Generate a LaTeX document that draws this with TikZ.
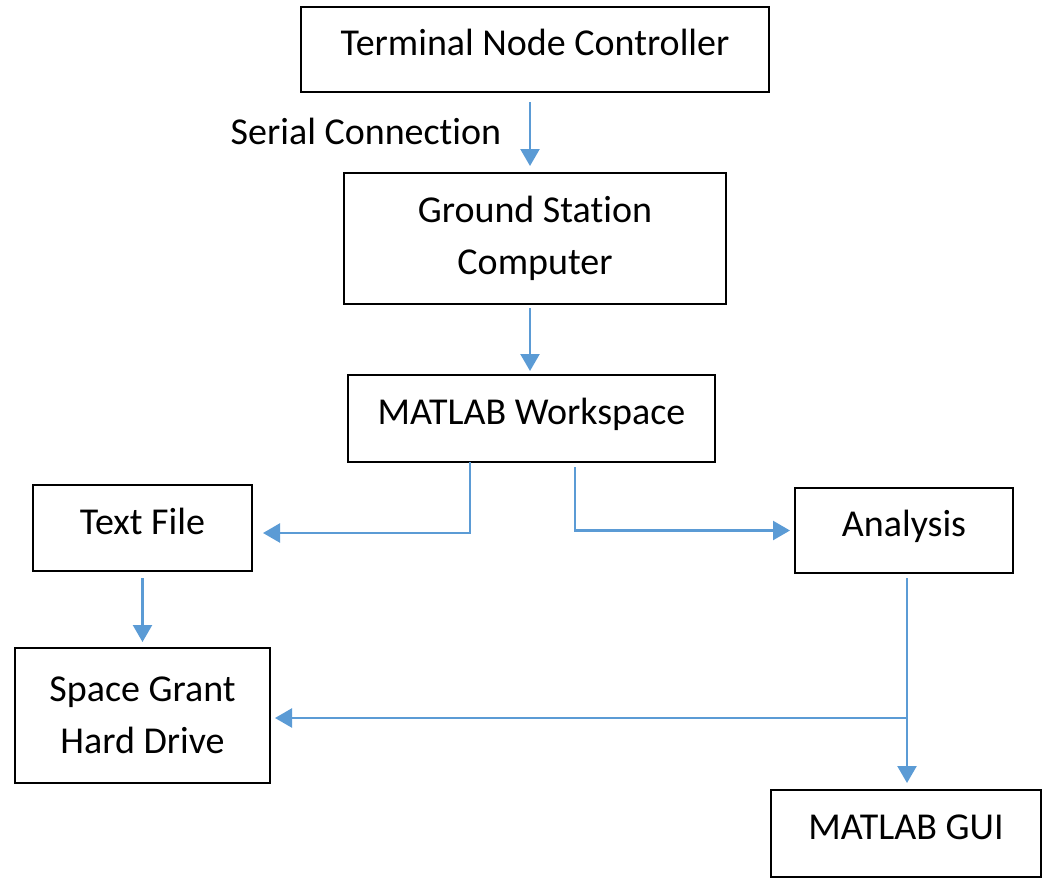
\documentclass[tikz,border=0pt]{standalone}
\usepackage{fontspec}
\setmainfont{Carlito}[Ligatures=NoCommon]
\usetikzlibrary{arrows.meta,calc}
\definecolor{arrblue}{HTML}{5B9BD5}
\begin{document}
\begin{tikzpicture}[x=1pt,y=-1pt,
  box/.style={draw=black,line width=2.6pt,inner sep=0pt,outer sep=0pt,align=center,
    font=\fontsize{38}{52}\selectfont},
  onebox/.style={box,text height=27pt,text depth=14.5pt},
  arr/.style={draw=arrblue,line width=2.4pt,-{Triangle[width=19pt,length=17pt]}},
  lbl/.style={font=\fontsize{38}{52}\selectfont}]
\useasboundingbox (0,0) rectangle (1050,879);
\node[onebox,minimum width=468pt,minimum height=85pt] (tnc) at (535,49.5) {Terminal Node Controller};
\node[box,minimum width=382pt,minimum height=131pt] (gsc) at (535,238.5) {Ground Station\\Computer};
\node[onebox,minimum width=367pt,minimum height=87pt] (mw) at (531.5,418.5) {MATLAB Workspace};
\node[onebox,minimum width=219pt,minimum height=86pt] (tf) at (142.5,528) {Text File};
\node[onebox,minimum width=218pt,minimum height=85pt] (an) at (904,530.5) {Analysis};
\node[box,minimum width=255pt,minimum height=135pt] (sg) at (142.5,715.5) {Space Grant\\Hard Drive};
\node[onebox,minimum width=270pt,minimum height=87pt] (gui) at (906,833.5) {MATLAB GUI};
\node[lbl] (sc) at (366,131) {Serial Connection};
\coordinate (br) at ($(an.south)+(3,145)$);
\draw[arr] ($(tnc.south)+(-5,10)$) -- ($(gsc.north)+(-5,-7)$);
\draw[arr] ($(gsc.south)+(-5,4)$) -- ($(mw.north)+(-1.5,-4)$);
\draw[arr] ($(mw.south)+(-61.5,0)$) |- ($(tf.east)+(11,5)$);
\draw[arr] ($(mw.south)+(43.5,5)$) |- ($(an.west)+(-5,0)$);
\draw[arr] ($(tf.south)+(0,7)$) -- ($(sg.north)+(0,-6)$);
\draw[arr] ($(an.south)+(3,5)$) -- ($(gui.north)+(1,-7)$);
\draw[arr] (br) -- ($(sg.east |- br)+(5,0)$);
\end{tikzpicture}
\end{document}
